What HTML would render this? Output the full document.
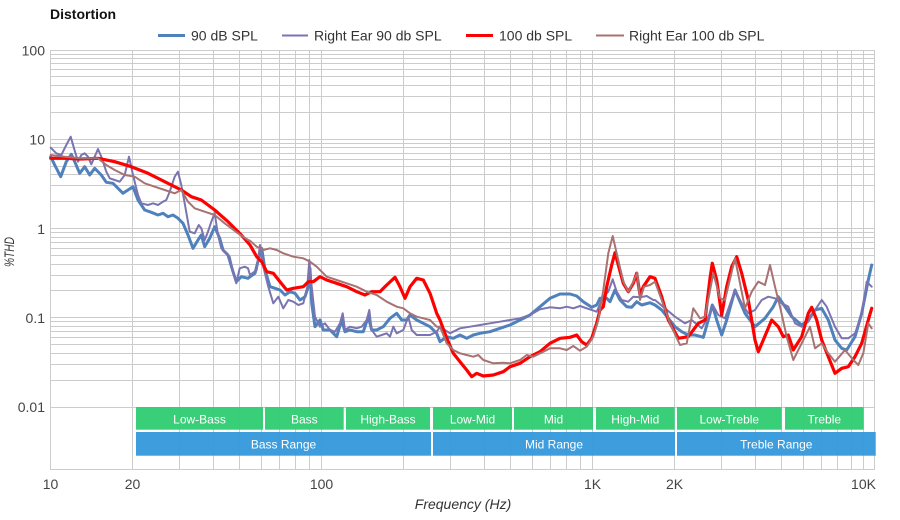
<!DOCTYPE html>
<html><head><meta charset="utf-8"><style>
html,body{margin:0;padding:0;background:#fff;}
svg{display:block;font-family:"Liberation Sans",Arial,sans-serif;}
</style></head><body>
<svg width="900" height="520" viewBox="0 0 900 520" xmlns="http://www.w3.org/2000/svg">
<rect width="900" height="520" fill="#fff"/>
<text x="50" y="19" font-size="14" font-weight="bold" fill="#111">Distortion</text>
<!-- legend -->
<g font-size="14" fill="#333">
<line x1="158" y1="35.5" x2="185" y2="35.5" stroke="#4f81bd" stroke-width="3"/>
<text x="191" y="40.5">90 dB SPL</text>
<line x1="282" y1="35.5" x2="308" y2="35.5" stroke="#7a74b0" stroke-width="2"/>
<text x="314" y="40.5">Right Ear 90 db SPL</text>
<line x1="466" y1="35.5" x2="493" y2="35.5" stroke="#ff0000" stroke-width="3"/>
<text x="499" y="40.5">100 db SPL</text>
<line x1="596" y1="35.5" x2="624" y2="35.5" stroke="#a87272" stroke-width="2"/>
<text x="629" y="40.5">Right Ear 100 db SPL</text>
</g>
<!-- grid -->
<g stroke="#cccccc" stroke-width="1" fill="none">
<path d="M50.5 50.5H874.5M50.5 54.5H874.5M50.5 58.5H874.5M50.5 63.5H874.5M50.5 69.5H874.5M50.5 76.5H874.5M50.5 85.5H874.5M50.5 96.5H874.5M50.5 112.5H874.5
M50.5 139.5H874.5M50.5 143.5H874.5M50.5 147.5H874.5M50.5 153.5H874.5M50.5 159.5H874.5M50.5 166.5H874.5M50.5 174.5H874.5M50.5 185.5H874.5M50.5 201.5H874.5
M50.5 228.5H874.5M50.5 232.5H874.5M50.5 237.5H874.5M50.5 242.5H874.5M50.5 248.5H874.5M50.5 255.5H874.5M50.5 264.5H874.5M50.5 275.5H874.5M50.5 290.5H874.5
M50.5 317.5H874.5M50.5 321.5H874.5M50.5 326.5H874.5M50.5 331.5H874.5M50.5 337.5H874.5M50.5 344.5H874.5M50.5 353.5H874.5M50.5 364.5H874.5M50.5 380.5H874.5
M50.5 407.5H874.5M50.5 469.5H874.5"/>
<path d="M50.5 50V470M132.5 50V470M179.5 50V470M213.5 50V470M239.5 50V470M261.5 50V470M279.5 50V470M295.5 50V470M309.5 50V470M321.5 50V470
M403.5 50V470M450.5 50V470M484.5 50V470M510.5 50V470M532.5 50V470M550.5 50V470M566.5 50V470M580.5 50V470M592.5 50V470
M674.5 50V470M721.5 50V470M755.5 50V470M781.5 50V470M803.5 50V470M821.5 50V470M837.5 50V470M851.5 50V470M863.5 50V470M874.5 50V470"/>
</g>
<!-- bands -->
<g>
<rect x="136" y="407" width="127" height="22.7" fill="#2ecc71" fill-opacity="0.95"/>
<rect x="265" y="407" width="78.7" height="22.7" fill="#2ecc71" fill-opacity="0.95"/>
<rect x="346" y="407" width="84" height="22.7" fill="#2ecc71" fill-opacity="0.95"/>
<rect x="433" y="407" width="79" height="22.7" fill="#2ecc71" fill-opacity="0.95"/>
<rect x="514" y="407" width="79" height="22.7" fill="#2ecc71" fill-opacity="0.95"/>
<rect x="596" y="407" width="78.7" height="22.7" fill="#2ecc71" fill-opacity="0.95"/>
<rect x="677" y="407" width="104.7" height="22.7" fill="#2ecc71" fill-opacity="0.95"/>
<rect x="785" y="407" width="78.7" height="22.7" fill="#2ecc71" fill-opacity="0.95"/>
<rect x="136" y="432" width="295" height="23.7" fill="#3498db" fill-opacity="0.95"/>
<rect x="433" y="432" width="242" height="23.7" fill="#3498db" fill-opacity="0.95"/>
<rect x="677" y="432" width="198.7" height="23.7" fill="#3498db" fill-opacity="0.95"/>
</g>
<g font-size="12" fill="#fff" text-anchor="middle">
<text x="199.5" y="423.5">Low-Bass</text>
<text x="304.3" y="423.5">Bass</text>
<text x="388" y="423.5">High-Bass</text>
<text x="472.5" y="423.5">Low-Mid</text>
<text x="553.5" y="423.5">Mid</text>
<text x="635.3" y="423.5">High-Mid</text>
<text x="729.3" y="423.5">Low-Treble</text>
<text x="824.3" y="423.5">Treble</text>
<text x="283.5" y="448.5">Bass Range</text>
<text x="554" y="448.5">Mid Range</text>
<text x="776.3" y="448.5">Treble Range</text>
</g>
<!-- axis labels -->
<g font-size="14" fill="#444" text-anchor="end">
<text x="45" y="55.5">100</text>
<text x="45" y="144.5">10</text>
<text x="45" y="234">1</text>
<text x="45" y="323">0.1</text>
<text x="45" y="412">0.01</text>
</g>
<g font-size="14" fill="#444" text-anchor="middle">
<text x="50.5" y="489">10</text>
<text x="132.5" y="489">20</text>
<text x="321.5" y="489">100</text>
<text x="592.5" y="489">1K</text>
<text x="674.5" y="489">2K</text>
<text x="863.5" y="489">10K</text>
</g>
<text x="463" y="509" font-size="14" font-style="italic" fill="#333" text-anchor="middle">Frequency (Hz)</text>
<text transform="translate(14,252) rotate(-90)" font-size="14" font-style="italic" fill="#333" text-anchor="middle" textLength="30" lengthAdjust="spacingAndGlyphs">%THD</text>
<!-- series -->
<g fill="none" stroke-linejoin="round" stroke-linecap="round">
<polyline stroke="#4f81bd" stroke-width="3" points="50.7,156.7 54.7,165 60.7,176.7 66.3,161.7 71.3,154.3 74.7,161.7 79.7,173.3 84.7,166.7 89.7,175 94.7,168.3 101.3,175 106.3,182.3 113,183.3 118,188.3 123,193.3 128,190 133,186.7 138,200 144.7,210 151.3,212.3 158,215 163,213.3 168,216.7 173,215 178,218.3 183,223.3 188,235 193,248.3 198,240 201.3,235 204.7,246.7 209.7,238.3 214.7,226.7 219.7,238.3 223,250 228,255 233,271.7 236.3,281.7 241.3,276.7 248,278.3 250,276.7 255,273.3 258.3,260 261.7,248.3 265,270 270,286.7 275,288.3 280,290 285,295 290,291.7 295,293.3 300,300 305,296.7 308.3,286.7 310,268.3 311.7,303.3 315,326.7 320,320 323.3,330 330,330 336.7,336.7 341.7,320 345,331.7 350,330 356.7,331.7 363.3,331.7 368.3,316.7 371.7,330 376.7,330 383.3,326.7 390,318.3 396.7,313.3 401.7,320 406.7,320 410,315 416.7,320 423.3,323.3 430,326.7 436.7,333.3 440,341.7 446.7,336.7 453.3,338.3 460,335 466.7,338.3 473.3,335 480,333.3 490,331.7 500,328.3 510,325 520,320 530,315 540,306.7 550,298.3 560,294 570,294 576.7,296 583.3,301.7 591.7,307.3 596.7,305 600,298.3 606.7,298.3 610,301.7 615,290 620,300 626.7,306.7 631.7,307.3 636.7,301.7 641.7,305 650,302.7 655,305 661.7,310 668.3,318.3 675,326.7 681.7,331.7 688.3,335 695,335 703.3,337.3 708.3,320 712.3,305 716.7,320 721.7,335 726.7,320 735,290 740,301.7 745,313.3 755,326.7 765,318.3 773.3,306.7 778.3,296.7 785,306.7 791.7,316.7 801.7,325 808.3,320 815,310 821.7,308.3 828.3,320 835,340 841.7,348.3 846.7,350 855,336.7 861.7,313.3 868.3,280 871.7,265"/>
<polyline stroke="#7a74b0" stroke-width="2" points="50.7,147.7 56.3,153.3 61.3,155 66.3,145 70.7,136.7 74,148.3 78,161.7 81.3,155 84.7,153.3 88,156.7 91.3,164.3 94.7,156.7 98,149 101.3,156.7 106.3,171.7 109.7,178.3 114.7,180 119.7,181.7 124.7,175 129,156.7 133,175 138,195 141.3,203.3 148,205 153,203.3 158,205 163,201.7 166.3,200 169.7,191.7 174.7,176.7 178,171.7 181.3,185 184.7,203.3 189.7,231.7 194.7,233.3 198.7,225 201.3,228.3 204.7,240 208,231.7 211.3,221.7 214.7,213.3 218,235 221.3,248.3 224.7,251.7 229.7,256.7 233,271.7 236.3,283.3 239.7,268.3 244.7,266.7 248,268.3 250,275 256.7,270 260,245 263.3,266.7 268.3,286.7 273.3,303.3 278.3,296.7 283.3,308.3 288.3,300 293.3,301.7 298.3,305 303.3,303.3 307.3,286.7 309.3,260 311.7,286.7 315,316.7 320,326.7 325,323.3 330,330 335,331.7 340,323.3 342.7,313.3 345,330 350,326.7 356.7,328.3 361.7,326.7 366.7,320 369.3,310 371.7,330 376.7,336.7 381.7,335 386.7,333.3 390,336.7 393.3,326.7 396.7,333.3 403.3,330 408.3,316.7 411.7,330 416.7,335 423.3,335 430,335 436.7,331.7 440,326.7 450,333.3 460,328.3 470,326.7 480,325 490,323.3 500,321.7 510,320 520,318.3 530,315 540,309.3 550,307.3 560,308.3 566.7,306.7 573.3,308.3 580,306 586.7,308.3 596.7,311.7 603.3,296.7 608.3,291.7 612.7,279.3 616.7,291.7 621.7,300 628.3,301.7 633.3,296.7 640,297.3 646.7,296 653.3,300 655,300 665,308.3 675,316.7 685,323.3 691.7,320 701.7,328.3 708.3,316.7 713.3,306 718.3,315 725,318.3 735,290 741.7,303.3 748.3,313.3 755,310 761.7,300 768.3,296.7 775,298.3 781.7,303.3 788.3,306.7 795,323.3 801.7,326.7 808.3,321.7 815,310 821.7,300 826.7,306.7 835,326.7 841.7,338.3 848.3,338.3 855,333.3 861.7,315 866.7,281.7 871.7,286.7"/>
<polyline stroke="#ff0000" stroke-width="3.2" points="50.7,158.3 64.7,158.3 81.3,159 98,158.3 114.7,161.7 131.3,166.7 148,173.3 164.7,181.7 181.3,190 191.3,196.7 201.3,200 214.7,210 228,221.7 241.3,235 250,245 256.7,256.7 261.7,261.7 266.7,271.7 273.3,273.3 280,281.7 286.7,290 293.3,288.3 303.3,286.7 308.3,281.7 313.3,281.7 320,276.7 326.7,280 336.7,283.3 346.7,286.7 356.7,291.7 365,295 371.7,291.7 380,291.7 386.7,285 395,277.3 400,286.7 405,298.3 410,286.7 416.7,278.3 423.3,280 430,293.3 436.7,313.3 440,320 446.7,338 453.3,353.3 460,361.7 466.7,370 471.7,376.7 476.7,373.3 483.3,376 493.3,375 503.3,371.7 510,366.7 520,363.3 530,356.7 540,351.7 550,343.3 560,338.3 570,337.3 576.7,335 581.7,341.7 586.7,345 591.7,338.3 596.7,323.3 600,310 603.3,306.7 606.7,286.7 611.7,265 615,252.7 618.3,265 623.3,283.3 628.3,291.7 633.3,283.3 636.7,273.3 640,295 643.3,286.7 650,276.7 655,278.3 661.7,296.7 668.3,320 678.3,338.3 688.3,336.7 698.3,323.3 705,320 710,278.3 712.3,263.3 716.7,280 721.7,315 726.7,286.7 731.7,266.7 736.7,256.7 741.7,273.3 748.3,300 755,340 758.3,351.7 763.3,340 771.7,320 778.3,326.7 783.3,336.7 788.3,335 793.3,350 801.7,336.7 808.3,313.3 811.7,307.3 816.7,320 821.7,340 828.3,356.7 835,373.3 841.7,368.3 848.3,366.7 855,356.7 861.7,343.3 868.3,320 871.7,308.3"/>
<polyline stroke="#a87272" stroke-width="2" points="50.7,155 64.7,156.7 81.3,158.3 98,158.3 106.3,165 114.7,170 124.7,175 134.7,176.7 144.7,183.3 154.7,186.7 164.7,190 174.7,193.3 181.3,190 188,201.7 194.7,208.3 204.7,211.7 214.7,215 224.7,223.3 238,233.3 248,240 250,240.7 256.7,246.7 263.3,250 270,248.3 276.7,250 283.3,253.3 293.3,256.7 303.3,258.3 310,261.7 316.7,266.7 326.7,276.7 336.7,280 346.7,283.3 356.7,286.7 366.7,291.7 376.7,295 386.7,301.7 396.7,306.7 403.3,308.3 410,313.3 416.7,316.7 423.3,318.3 430,320 436.7,326.7 440,326.7 446.7,343.3 453.3,350 460,353.3 466.7,355 473.3,356.7 478.3,355 483.3,360 493.3,363.3 503.3,362.7 510,363.3 520,360 526.7,355 533.3,356.7 540,353.3 550,348.3 560,348.3 566.7,350 573.3,346 580,350.7 586.7,346.7 593.3,336.7 598.3,320 603.3,290 608.3,253.3 612.7,236 616.7,253.3 623.3,281.7 628.3,291.7 633.3,281.7 637.3,272.7 640,300 644,286.7 650,285 655,281.7 661.7,300 670,323.3 680,345 686.7,343.3 693.3,308.3 700,318.3 705,316.7 713.3,273.3 720,298.3 725,300 735,258.3 740,283.3 745,308.3 751.7,291.7 758.3,281.7 765,285 770,265 775,286.7 780,306.7 786.7,336.7 793.3,360 798.3,350 805,336.7 810,326.7 815,348.3 821.7,343.3 828.3,353.3 835,361.7 845,350 853.3,360 858.3,365 863.3,353.3 868.3,323.3 871.7,328.3"/>
</g>
</svg>
</body></html>
